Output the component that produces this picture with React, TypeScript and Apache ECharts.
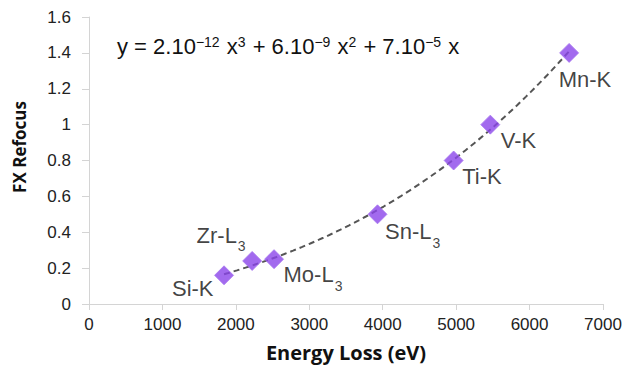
import React, { useEffect, useRef } from "react";
import * as echarts from "echarts";

const edgeNames = ["Si-K", "Zr-L3", "Mo-L3", "Sn-L3", "Ti-K", "V-K", "Mn-K"];
const energyLoss = [1839, 2222, 2520, 3929, 4966, 5465, 6539];
const fxRefocus = [0.16, 0.24, 0.25, 0.5, 0.8, 1.0, 1.4];
const xTicks = { min: 0, max: 7000, interval: 1000 };
const yTicks = { min: 0, max: 1.6, interval: 0.2 };

// least-squares cubic through the origin (like a spreadsheet trendline with intercept 0)
function fitCubic(xs: number[], ys: number[]) {
  const s = 1000;
  const A = [
    [0, 0, 0, 0],
    [0, 0, 0, 0],
    [0, 0, 0, 0],
  ];
  for (let k = 0; k < xs.length; k++) {
    const t = xs[k] / s;
    const b = [t, t * t, t * t * t];
    for (let i = 0; i < 3; i++) {
      for (let j = 0; j < 3; j++) A[i][j] += b[i] * b[j];
      A[i][3] += b[i] * ys[k];
    }
  }
  for (let i = 0; i < 3; i++) {
    for (let r = i + 1; r < 3; r++) {
      const f = A[r][i] / A[i][i];
      for (let c = i; c < 4; c++) A[r][c] -= f * A[i][c];
    }
  }
  const c = [0, 0, 0];
  for (let i = 2; i >= 0; i--) {
    let v = A[i][3];
    for (let j = i + 1; j < 3; j++) v -= A[i][j] * c[j];
    c[i] = v / A[i][i];
  }
  return (x: number) => {
    const t = x / s;
    return c[0] * t + c[1] * t * t + c[2] * t * t * t;
  };
}

const SYM = 19;
// label placement: [dx, dy] from marker centre to label (right/left edge, em top)
const labelPlace: Record<string, { dx: number; dy: number; align: string }> = {
  "Si-K": { dx: -10, dy: 3, align: "right" },
  "Zr-L3": { dx: -6, dy: -36, align: "right" },
  "Mo-L3": { dx: 10, dy: 5, align: "left" },
  "Sn-L3": { dx: 8, dy: 7, align: "left" },
  "Ti-K": { dx: 9, dy: 5, align: "left" },
  "V-K": { dx: 11, dy: 5, align: "left" },
  "Mn-K": { dx: -10, dy: 16, align: "left" },
};

function labelText(name: string) {
  const m = name.match(/^(.*)(\d)$/);
  if (m) return `{a|${m[1]}}{s|${m[2]}}`;
  return `{a|${name}}`;
}

export default function App() {
  const ref = useRef<HTMLDivElement>(null);
  useEffect(() => {
    if (!ref.current) return;
    const chart = echarts.init(ref.current, undefined, { renderer: "svg" });
    const f = fitCubic(energyLoss, fxRefocus);
    const x0 = energyLoss[0];
    const x1 = energyLoss[energyLoss.length - 1];
    const trend: number[][] = [];
    const n = 80;
    for (let i = 0; i <= n; i++) {
      const x = x0 + ((x1 - x0) * i) / n;
      trend.push([x, f(x)]);
    }
    const points = energyLoss.map((x, i) => {
      const name = edgeNames[i];
      const p = labelPlace[name];
      return {
        name,
        value: [x, fxRefocus[i]],
        label: {
          show: true,
          formatter: labelText(name),
          position: [SYM / 2 + p.dx, SYM / 2 + p.dy],
          align: p.align,
          verticalAlign: "top",
        },
      };
    });
    const tickFont = "'Liberation Sans', Arial, sans-serif";
    const titleFont = "'Open Sans', Lato, sans-serif";
    chart.setOption({
      animation: false,
      grid: { left: 89, right: 25, top: 17, bottom: 67, containLabel: false },
      xAxis: {
        type: "value",
        min: xTicks.min,
        max: xTicks.max,
        interval: xTicks.interval,
        name: "Energy Loss (eV)",
        nameLocation: "middle",
        nameGap: 38,
        nameTextStyle: {
          fontFamily: titleFont,
          fontWeight: "bold",
          fontSize: 20,
          color: "#111",
        },
        axisLine: { show: true, lineStyle: { color: "#d4d4d4", width: 1 } },
        axisTick: { show: true, length: 6, lineStyle: { color: "#d4d4d4" } },
        splitLine: { show: false },
        axisLabel: {
          fontFamily: tickFont,
          fontSize: 17,
          color: "#222",
          margin: 12,
          formatter: (v: number) => String(v),
        },
      },
      yAxis: {
        type: "value",
        min: yTicks.min,
        max: yTicks.max,
        interval: yTicks.interval,
        axisLine: { show: true, lineStyle: { color: "#d4d4d4", width: 1 } },
        axisTick: { show: true, length: 7, lineStyle: { color: "#d4d4d4" } },
        splitLine: { show: false },
        axisLabel: {
          fontFamily: tickFont,
          fontSize: 17,
          color: "#222",
          margin: 18,
          formatter: (v: number) => String(Math.round(v * 10) / 10),
        },
      },
      graphic: [
        {
          type: "text",
          x: 19,
          y: 147,
          rotation: Math.PI / 2,
          style: {
            text: "FX Refocus",
            fontFamily: titleFont,
            fontWeight: "bold",
            fontSize: 17,
            fill: "#111",
            align: "center",
            verticalAlign: "middle",
          },
        },
        {
          type: "text",
          x: 117,
          y: 32,
          style: {
            text:
              "{m|y = 2.10}{p|−12}{m| x}{p|3}{m| + 6.10}{p|−9}{m| x}{p|2}{m| + 7.10}{p|−5}{m| x}",
            fontFamily: tickFont,
            rich: {
              m: {
                fontFamily: tickFont,
                fontSize: 22,
                lineHeight: 25,
                verticalAlign: "bottom",
                fill: "#111",
              },
              p: {
                fontFamily: tickFont,
                fontSize: 14,
                lineHeight: 14,
                padding: [3, 1, 0, 0],
                verticalAlign: "top",
                fill: "#111",
              },
            },
          },
        },
      ],
      series: [
        {
          type: "line",
          data: trend,
          showSymbol: false,
          symbol: "none",
          smooth: false,
          lineStyle: { color: "#555", width: 2, type: [6, 4] },
          silent: true,
          z: 2,
        },
        {
          type: "scatter",
          data: points,
          symbol: "diamond",
          symbolSize: SYM,
          itemStyle: { color: "#8b45ea", borderColor: "#a877f0", borderWidth: 1 },
          label: {
            show: true,
            rich: {
              a: {
                fontFamily: tickFont,
                fontSize: 22,
                lineHeight: 23,
                color: "#111",
                verticalAlign: "top",
              },
              s: {
                fontFamily: tickFont,
                fontSize: 14,
                lineHeight: 14,
                padding: [15, 0, 0, 1],
                color: "#111",
                verticalAlign: "top",
              },
            },
          },
          z: 3,
        },
      ],
    });
    return () => chart.dispose();
  }, []);
  return (
    <div
      ref={ref}
      style={{ position: "absolute", left: 0, top: 0, width: 628, height: 371 }}
    />
  );
}
